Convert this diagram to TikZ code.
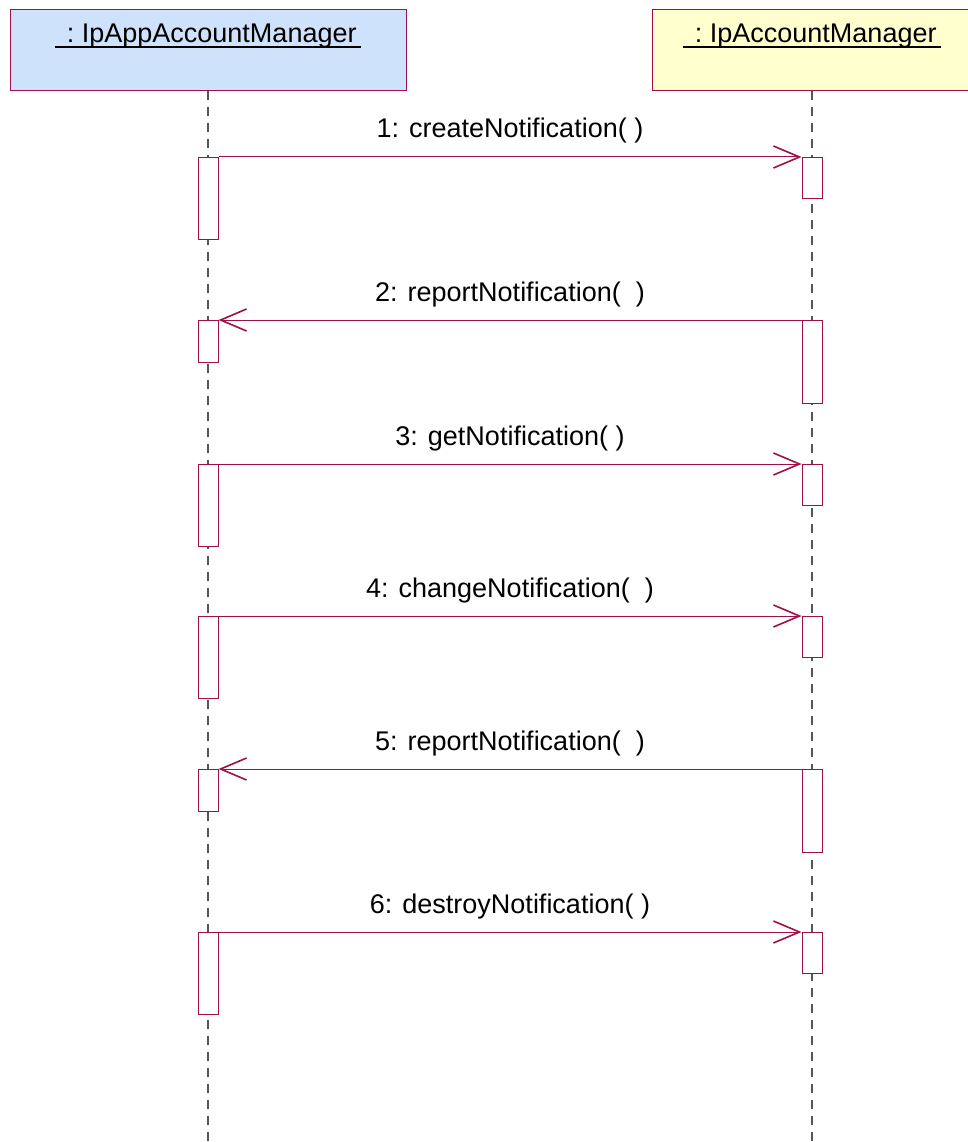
\documentclass[tikz,border=0pt]{standalone}
\usepackage{fontspec}
\setmainfont{Liberation Sans}
\usetikzlibrary{arrows.meta,positioning}
\definecolor{umlred}{RGB}{160,16,72}
\definecolor{appblue}{RGB}{206,226,252}
\definecolor{accyellow}{RGB}{255,255,206}
\definecolor{lifegray}{RGB}{85,85,85}

\begin{document}
\begin{tikzpicture}
    [x=1pt, y=-1pt,
     obj/.style={draw=umlred, line width=1pt, minimum height=81pt, inner sep=0pt},
     act/.style={draw=umlred, fill=white, line width=1pt, minimum width=20pt,
       inner sep=0pt, anchor=north},
     msg/.style={umlred, line width=1pt,
       -{Straight Barb[length=26pt, width=22pt, line width=1.6pt]}},
     life/.style={lifegray, line width=1.2pt, dash pattern=on 9pt off 7pt},
     lbl/.style={anchor=base, inner sep=0pt, font=\fontsize{27}{32}\selectfont}]
    \def \xl {208}
    \def \xr {812}
    \def \xm {510}

    \useasboundingbox (0,0) rectangle (967,1142);

    % the two objects
    \node[obj, fill=appblue, minimum width=396pt] (app) at (\xl,50.5) {};
    \node[obj, fill=accyellow, minimum width=320pt] (acc) at (\xr,50.5) {};
    \node[lbl, inner xsep=4pt] (appname) at (\xl,43) {\ :\ IpAppAccountManager};
    \node[lbl, inner xsep=4pt] (accname) at (\xr,43) {\ :\ IpAccountManager};
    \draw[line width=1.3pt] ([yshift=-4pt]appname.base west) -- ([yshift=-4pt]appname.base east);
    \draw[line width=1.3pt] ([yshift=-4pt]accname.base west) -- ([yshift=-4pt]accname.base east);

    % lifelines
    \coordinate (append) at (\xl,1142);
    \coordinate (accend) at (\xr,1142);
    \draw[life] (app.south) -- (append);
    \draw[life] (acc.south) -- (accend);

    % calls from the application side
    \foreach \i/\y/\txt in {1/157/{1: createNotification( )},
                            3/464/{3: getNotification( )},
                            4/616/{4: changeNotification(\ \ )},
                            6/932/{6: destroyNotification( )}}
    {
      \node[act, minimum height=82pt] (l\i) at (\xl,\y) {};
      \node[act, minimum height=41pt] (r\i) at (\xr,\y) {};
      \draw[msg] (l\i.north east) -- (r\i.north west);
      \node[lbl] (m\i) at (\xm,\y-19) {\txt};
    }

    % reports back to the application
    \foreach \i/\y/\txt in {2/320/{2: reportNotification(\ \ )},
                            5/769/{5: reportNotification(\ \ )}}
    {
      \node[act, minimum height=83pt] (r\i) at (\xr,\y) {};
      \node[act, minimum height=42pt] (l\i) at (\xl,\y) {};
      \draw[msg] (r\i.north west) -- (l\i.north east);
      \node[lbl] (m\i) at (\xm,\y-19) {\txt};
    }
\end{tikzpicture}
\end{document}
